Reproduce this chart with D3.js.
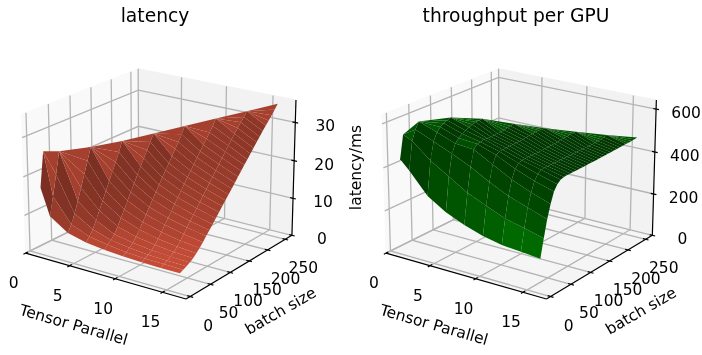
<!DOCTYPE html>
<html>
<head>
<meta charset="utf-8">
<script src="https://cdn.jsdelivr.net/npm/d3@7"></script>
<style>
  html, body { margin: 0; padding: 0; background: #fff; }
  svg { display: block; filter: blur(0.4px); }
  text { font-family: "DejaVu Sans", sans-serif; fill: #000; }
</style>
</head>
<body>
<div id="container"></div>
<script>
/* DATA */
const tensorParallel = [1, 2, 4, 6, 8, 10, 12, 14, 16];

// batch size rows, a column only runs up to its own last value
const batchSizes = [8, 16, 24, 32, 40, 48, 56, 64, 72, 80, 88, 96, 104, 112, 120, 128,
  136, 144, 152, 160, 168, 176, 184, 192, 200, 208, 216, 224, 232, 240, 248, 256];

// one list per tensor parallel value
const latency = [
  [16.8, 25.8],
  [10, 14.8, 20, 25.6],
  [6.9, 8.7, 11.1, 13.9, 16.9, 20, 23.1, 26.2],
  [5.7, 6.8, 8.2, 10.1, 12.2, 14.3, 16.4, 18.5, 20.6, 22.7, 24.9, 27.3],
  [5.1, 5.9, 6.7, 7.7, 9.3, 11.1, 12.8, 14.7, 16.5, 18.3, 20.1, 21.9, 23.6, 25.3, 27, 28.8],
  [4.7, 5.3, 6, 6.8, 7.9, 9.3, 10.8, 12.3, 13.8, 15.3, 16.8, 18.3, 19.8, 21.2, 22.6, 24.1, 25.5, 26.9, 28.5, 30.3],
  [4.5, 5, 5.5, 6.2, 7.1, 8.2, 9.5, 10.9, 12.2, 13.5, 14.9, 16.2, 17.5, 18.8, 20.1, 21.4, 22.7, 24, 25.2, 26.5, 27.7, 28.9, 30.2, 31.8],
  [4.4, 4.9, 5.3, 5.9, 6.6, 7.5, 8.5, 9.8, 11, 12.2, 13.4, 14.6, 15.8, 17, 18.2, 19.4, 20.6, 21.8, 23, 24.2, 25.4, 26.6, 27.8, 28.9, 30, 31.1, 32.1, 33.2],
  [4.4, 4.8, 5.2, 5.7, 6.3, 7.1, 8, 9, 10.1, 11.1, 12.2, 13.3, 14.4, 15.5, 16.6, 17.6, 18.7, 19.8, 20.9, 22, 23.1, 24.1, 25.2, 26.3, 27.4, 28.4, 29.5, 30.5, 31.5, 32.5, 33.6, 34.7]
];

const throughput = [
  [434, 540],
  [392, 520, 565, 595],
  [295, 450, 530, 565, 582, 592, 600, 605],
  [242, 398, 494, 533, 551, 563, 572, 580, 585, 590, 591, 592],
  [206, 345, 455, 526, 543, 545, 551, 548, 549, 549, 550, 550, 553, 556, 558, 561],
  [178, 308, 407, 478, 513, 522, 523, 525, 526, 526, 527, 527, 528, 531, 533, 533, 535, 537, 535, 533],
  [160, 272, 365, 432, 472, 490, 496, 497, 497, 497, 497, 497, 498, 499, 500, 501, 501, 502, 505, 505, 507, 509, 509, 508],
  [152, 250, 335, 395, 438, 462, 474, 475, 475, 475, 475, 475, 475, 475, 475, 475, 475, 475, 475, 475, 475, 475, 475, 476, 478, 479, 482, 485],
  [145, 228, 305, 365, 412, 437, 450, 455, 456, 456, 456, 456, 456, 456, 456, 457, 457, 457, 457, 458, 458, 459, 459, 460, 460, 461, 461, 462, 462, 463, 464, 465]
];

const xTicks = [0, 5, 10, 15];
const yTicks = [0, 50, 100, 150, 200, 250];
const latencyTicks = [0, 10, 20, 30];
const throughputTicks = [0, 200, 400, 600];

/* CONSTANTS */
const width = 702, height = 355;
const elev = 20 * Math.PI / 180, azim = -55 * Math.PI / 180, dist = 10;
const xLim = [0, 17.4], yLim = [-10, 269];
const box = [1.19, 1.19, 0.893];
const lightDir = [-0.667, -0.667, 0.333];
const centerY = 176.7;

const svg = d3.select("#container").append("svg")
  .attr("width", width)
  .attr("height", height);

// camera basis, same as mplot3d
const n = [Math.cos(elev) * Math.cos(azim), Math.cos(elev) * Math.sin(azim), Math.sin(elev)];
const u = [-Math.sin(azim), Math.cos(azim), 0];
const v = [-Math.sin(elev) * Math.cos(azim), -Math.sin(elev) * Math.sin(azim), Math.cos(elev)];
const dot = (a, b) => a[0] * b[0] + a[1] * b[1] + a[2] * b[2];

function drawPanel(cfg) {
  const g = svg.append("g");

  const xScale = d3.scaleLinear().domain(xLim).range([-box[0] / 2, box[0] / 2]);
  const yScale = d3.scaleLinear().domain(yLim).range([-box[1] / 2, box[1] / 2]);
  const zScale = d3.scaleLinear().domain(cfg.zLim).range([-box[2] / 2, box[2] / 2]);
  const sx = d3.scaleLinear().domain([-0.1, 0.1]).range([cfg.cx - 163.1, cfg.cx + 163.1]);
  const sy = d3.scaleLinear().domain([-0.1, 0.1]).range([centerY + 163.1, centerY - 163.1]);

  const toView = p => {
    const d = [xScale(p[0]), yScale(p[1]), zScale(p[2])];
    const w = dist - dot(d, n);
    return { x: sx(dot(d, u) / w), y: sy(dot(d, v) / w), depth: w };
  };
  const lineGen = d3.line().x(d => toView(d).x).y(d => toView(d).y);
  const [x0, x1] = xLim, [y0, y1] = yLim, [z0, z1] = cfg.zLim;

  // panes
  const panes = [
    { pts: [[x0, y0, z0], [x0, y1, z0], [x0, y1, z1], [x0, y0, z1]], fill: "#f9f9f9" },
    { pts: [[x0, y1, z0], [x1, y1, z0], [x1, y1, z1], [x0, y1, z1]], fill: "#f2f2f2" },
    { pts: [[x0, y0, z0], [x1, y0, z0], [x1, y1, z0], [x0, y1, z0]], fill: "#f5f5f5" }
  ];
  g.selectAll(".pane").data(panes).join("path")
    .attr("class", "pane")
    .attr("fill", d => d.fill)
    .attr("stroke", d => d.fill)
    .attr("d", d => lineGen(d.pts) + "Z");

  // grid
  const gridLines = [
    ...xTicks.map(t => [[t, y0, z0], [t, y1, z0], [t, y1, z1]]),
    ...yTicks.map(t => [[x1, t, z0], [x0, t, z0], [x0, t, z1]]),
    ...cfg.zTicks.map(t => [[x0, y0, t], [x0, y1, t], [x1, y1, t]])
  ];
  g.selectAll(".grid").data(gridLines).join("path")
    .attr("class", "grid")
    .attr("fill", "none")
    .attr("stroke", "#b4b4b4")
    .attr("stroke-width", 1.3)
    .attr("d", lineGen);

  // axis lines
  const axisLines = [
    [[x0, y0, z0], [x1, y0, z0]],
    [[x1, y0, z0], [x1, y1, z0]],
    [[x1, y1, z0], [x1, y1, z1]]
  ];
  const tickLines = [
    ...xTicks.map(t => [[t, y0 - 5, z0], [t, y0 + 5, z0]]),
    ...yTicks.map(t => [[x1 - 0.3, t, z0], [x1 + 0.3, t, z0]]),
    ...cfg.zTicks.map(t => [[x1 - 0.3, y1, t], [x1 + 0.3, y1, t]])
  ];
  g.selectAll(".axis").data(axisLines.concat(tickLines)).join("path")
    .attr("class", "axis")
    .attr("fill", "none")
    .attr("stroke", "#000")
    .attr("stroke-width", 1.2)
    .attr("d", lineGen);

  // surface quads, clamped to the last value of each column
  const quads = [];
  d3.pairs(d3.range(tensorParallel.length)).forEach(([a, b]) => {
    const vertex = (col, row) => {
      const r = Math.min(row, cfg.values[col].length - 1);
      return [tensorParallel[col], batchSizes[r], cfg.values[col][r]];
    };
    d3.pairs(d3.range(cfg.values[b].length)).forEach(([r0, r1]) => {
      quads.push([vertex(a, r1), vertex(a, r0), vertex(b, r0), vertex(b, r1)]);
    });
  });

  const shadeOf = q => {
    const e1 = [q[0][0] - q[1][0], q[0][1] - q[1][1], q[0][2] - q[1][2]];
    const e2 = [q[1][0] - q[2][0], q[1][1] - q[2][1], q[1][2] - q[2][2]];
    const nrm = [
      e1[1] * e2[2] - e1[2] * e2[1],
      e1[2] * e2[0] - e1[0] * e2[2],
      e1[0] * e2[1] - e1[1] * e2[0]
    ];
    const len = Math.hypot(...nrm);
    const s = len ? dot(nrm, lightDir) / len : 0;
    return 0.3 + 0.7 * (s + 1) / 2;
  };

  const faces = quads.map(q => ({
    q: q,
    shade: shadeOf(q),
    depth: d3.mean(q, p => toView(p).depth)
  })).sort((a, b) => d3.descending(a.depth, b.depth));

  g.selectAll(".face").data(faces).join("path")
    .attr("class", "face")
    .attr("fill", d => {
      const c = d3.rgb(cfg.color);
      return d3.rgb(c.r * d.shade, c.g * d.shade, c.b * d.shade);
    })
    .attr("d", d => lineGen(d.q) + "Z");

  // tick labels
  const tickLabel = (t, p, dx, dy) => g.append("text")
    .attr("x", toView(p).x + dx)
    .attr("y", toView(p).y + dy)
    .attr("text-anchor", "middle")
    .attr("dominant-baseline", "central")
    .style("font-size", "15.5px")
    .text(t);
  xTicks.forEach(t => tickLabel(t, [t, y0, z0], -12, 30));
  yTicks.forEach(t => tickLabel(t, [x1, t, z0], 18, 29));
  cfg.zTicks.forEach(t => tickLabel(t, [x1, y1, t], 30, 4));

  // axis labels
  const label = (t, x, y, rot) => g.append("text")
    .attr("transform", `translate(${x},${y}) rotate(${rot})`)
    .attr("text-anchor", "middle")
    .attr("dominant-baseline", "central")
    .style("font-size", "15.5px")
    .text(t);
  label("Tensor Parallel", cfg.cx - 87, 325, 16);
  label("batch size", cfg.cx + 120, 311, -30);

  g.append("text")
    .attr("x", cfg.titleX)
    .attr("y", 15.5)
    .attr("text-anchor", "middle")
    .attr("dominant-baseline", "central")
    .style("font-size", "18.7px")
    .text(cfg.title);
}

drawPanel({
  title: "latency", titleX: 155, cx: 160.6, color: "tomato",
  values: latency, zLim: [0, 35.8], zTicks: latencyTicks
});
drawPanel({
  title: "throughput per GPU", titleX: 516, cx: 521, color: "green",
  values: throughput, zLim: [0, 642], zTicks: throughputTicks
});

// z label sits between the two panels
svg.append("text")
  .attr("transform", "translate(356,167.5) rotate(-90)")
  .attr("text-anchor", "middle")
  .attr("dominant-baseline", "central")
  .style("font-size", "15.5px")
  .text("latency/ms");
</script>
</body>
</html>
